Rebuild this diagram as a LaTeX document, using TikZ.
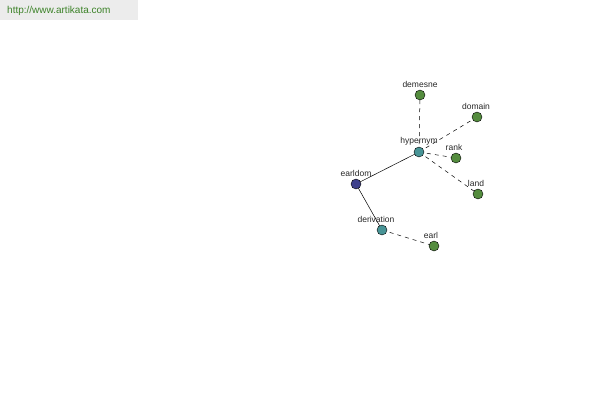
\documentclass[tikz,border=0pt]{standalone}
\usepackage{fontspec}
\setmainfont{Liberation Sans}
\usetikzlibrary{positioning}
\definecolor{leafgreen}{RGB}{84,140,62}
\definecolor{hubteal}{RGB}{72,148,150}
\definecolor{rootblue}{RGB}{62,64,140}
\definecolor{sitegreen}{RGB}{60,130,40}
\definecolor{sitegray}{RGB}{236,236,236}
\tikzset{
	word/.style={circle,draw=black,line width=0.4pt,minimum size=10pt,inner sep=0pt},
	wlabel/.style={font=\fontsize{8.5}{9}\selectfont,text=black!85,inner sep=0pt},
	rel/.style={line width=0.5pt},
	relx/.style={line width=0.5pt,dash pattern=on 4pt off 4pt}
}

\begin{document}
\begin{tikzpicture}[x=1pt,y=-1pt]
		\useasboundingbox (0,0) rectangle (600,400);
		\fill[sitegray] (0,0) rectangle (138,20);
		\node[anchor=west,font=\fontsize{10}{12}\selectfont,text=sitegreen,inner sep=0pt] (site) at (7,11) {http://www.artikata.com};
		
		% edges first, nodes on top
		\coordinate (pe) at (356,184);
		\coordinate (ph) at (419,152);
		\coordinate (pd) at (382,230);
		\foreach \n/\x/\y in {demesne/420/95, domain/477/117, rank/456/158, land/478/194}
			\draw[relx] (ph) -- (\x,\y);
		\draw[relx] (pd) -- (434,246);
		\draw[rel] (pe) -- (ph);
		\draw[rel] (pe) -- (pd);
		
		\foreach \n/\x/\y in {demesne/420/95, domain/477/117, rank/456/158, land/478/194, earl/434/246}
			\node[word,fill=leafgreen] (\n) at (\x,\y) {};
		\node[word,fill=hubteal] (hypernym) at (ph) {};
		\node[word,fill=hubteal] (derivation) at (pd) {};
		\node[word,fill=rootblue] (earldom) at (pe) {};
		
		\foreach \n/\dx in {demesne/0, domain/-1, rank/-2, land/-2, earl/-3, hypernym/0, derivation/-6, earldom/0}
			\node[wlabel,above=7pt of \n.center,xshift=\dx pt] (\n-lbl) {\n};
	\end{tikzpicture}
\end{document}
